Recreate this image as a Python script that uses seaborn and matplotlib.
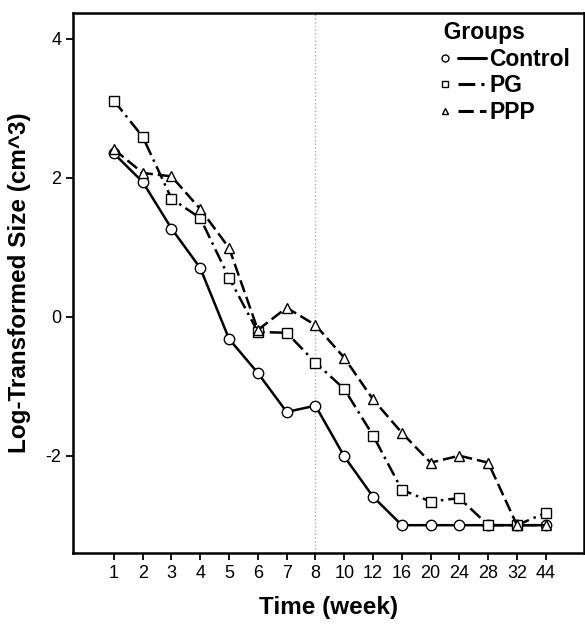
import matplotlib
matplotlib.use("Agg")
import matplotlib.pyplot as plt
import pandas as pd
import seaborn as sns
from matplotlib.lines import Line2D
from matplotlib.legend_handler import HandlerTuple

weeks = ["1", "2", "3", "4", "5", "6", "7", "8", "10", "12", "16", "20", "24", "28", "32", "44"]
control = [2.35, 1.94, 1.27, 0.70, -0.32, -0.81, -1.37, -1.28, -2.01, -2.59, -3.0, -3.0, -3.0, -3.0, -3.0, -3.0]
pg = [3.11, 2.59, 1.70, 1.42, 0.56, -0.22, -0.23, -0.66, -1.04, -1.71, -2.49, -2.66, -2.61, -3.0, -3.0, -2.82]
ppp = [2.41, 2.07, 2.02, 1.55, 0.99, -0.19, 0.13, -0.12, -0.59, -1.19, -1.67, -2.10, -2.00, -2.10, -3.0, -3.0]
groups = ["Control", "PG", "PPP"]

rows = []
for g, vals in zip(groups, [control, pg, ppp]):
    for i, v in enumerate(vals):
        rows.append({"idx": i, "size": v, "group": g})
df = pd.DataFrame(rows)

sns.set_style("ticks")
plt.rcParams["font.family"] = ["Liberation Sans", "DejaVu Sans"]
plt.rcParams["text.color"] = "black"
plt.rcParams["axes.labelcolor"] = "black"

fig = plt.figure(figsize=(5.85, 6.24), dpi=100)
ax = fig.add_axes([0.1248, 0.1138, 0.8732, 0.8652])

markers = {"Control": "o", "PG": "s", "PPP": "^"}
dashes = {"Control": "", "PG": (5.5, 2, 1, 2), "PPP": (5, 2)}

ax.axvline(7, color="#aaaaaa", ls=":", lw=1, zorder=0)

sns.lineplot(data=df, x="idx", y="size", hue="group", style="group",
             palette=["black"] * 3, markers=markers, dashes=dashes,
             markerfacecolor="white", markeredgecolor="black",
             markersize=7.5, markeredgewidth=1.0, lw=1.8,
             legend=False, ax=ax)

ax.set_xlim(-1.42, 16.32)
ax.set_ylim(-3.40, 4.37)
ax.set_xticks(range(len(weeks)))
ax.set_xticklabels(weeks)
ax.set_yticks([-2, 0, 2, 4])
ax.set_yticklabels(["-2", "0", "2", "4"])
ax.tick_params(axis="both", labelsize=13, length=5, width=1.3, direction="out", colors="black")

for s in ax.spines.values():
    s.set_visible(True)
    s.set_linewidth(1.8)
    s.set_color("black")

ax.set_xlabel("Time (week)", fontsize=17.5, fontweight="bold", labelpad=10)
ax.set_ylabel("Log-Transformed Size (cm^3)", fontsize=17.5, fontweight="bold", labelpad=10)

handles = []
for g in groups:
    m = Line2D([], [], marker=markers[g], ls="none", mfc="white", mec="black", ms=5, mew=1)
    ln = Line2D([], [], color="black", lw=2.2,
                ls="-" if g == "Control" else (0, dashes[g]))
    handles.append((m, ln))

leg = ax.legend(handles, groups, title="  Groups", loc="upper right",
                bbox_to_anchor=(1.0, 1.01), frameon=False,
                handler_map={tuple: HandlerTuple(ndivide=2, pad=0)},
                handlelength=2.4, handletextpad=0.15, labelspacing=0.15,
                borderaxespad=0.2, alignment="left",
                prop={"size": 16.5, "weight": "bold"})
leg.get_title().set_fontsize(16.5)
leg.get_title().set_fontweight("bold")

fig.savefig("out.png", dpi=100)
